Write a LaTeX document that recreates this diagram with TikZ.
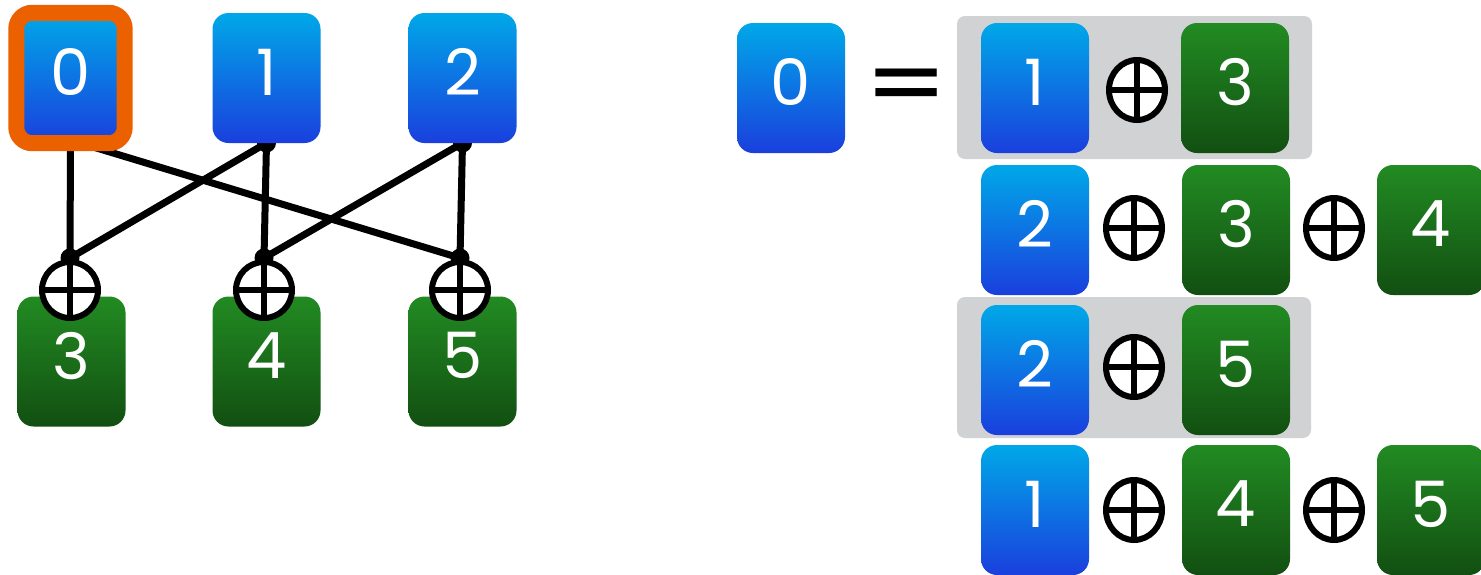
\documentclass[tikz,border=0pt]{standalone}
\usepackage{fontspec}
\newfontfamily\numfont{Poppins}
\newfontfamily\symfont{DejaVu Sans}
\usetikzlibrary{shapes.geometric}
\definecolor{bluetop}{HTML}{00A8E8}
\definecolor{bluebot}{HTML}{1A3FDD}
\definecolor{greentop}{HTML}{228B22}
\definecolor{greenbot}{HTML}{124F12}
\definecolor{panelgrey}{HTML}{D1D2D4}
\definecolor{frameorange}{HTML}{EB6100}
\tikzset{
  cell/.style={minimum width=108pt, minimum height=130pt, rounded corners=16pt, inner sep=0pt,
    text=white, text depth=12pt, font=\numfont\fontsize{64}{70}\selectfont},
  bluecell/.style={cell, top color=bluetop, bottom color=bluebot},
  greencell/.style={cell, top color=greentop, bottom color=greenbot},
  xorcirc/.style={circle, draw=black, fill=white, line width=6pt, minimum size=56pt, inner sep=0pt,
    path picture={\draw[line width=6pt] (path picture bounding box.north) -- (path picture bounding box.south)
      (path picture bounding box.west) -- (path picture bounding box.east);}},
  xoroval/.style={ellipse, draw=black, fill=white, line width=6pt, minimum width=56pt, minimum height=60pt, inner sep=0pt,
    path picture={\draw[line width=6pt] (path picture bounding box.north) -- (path picture bounding box.south)
      (path picture bounding box.west) -- (path picture bounding box.east);}},
  wire/.style={line width=7pt, black},
  joint/.style={circle, fill=black, minimum size=19pt, inner sep=0pt},
  panel/.style={fill=panelgrey, rounded corners=8pt, draw=none},
  frame/.style={draw=frameorange, line width=16pt, rounded corners=16pt}
}
\begin{document}
\begin{tikzpicture}[x=1pt, y=-1pt]
\useasboundingbox (0,0) rectangle (1481,574);
\clip (0,0) rectangle (1481,574);
\fill[white] (0,0) rectangle (1481,574);

% ---------- left panel ----------
\coordinate (t1s) at (266.5,143);
\coordinate (t2s) at (462.5,143);
\coordinate (t0a) at (70.5,143);
\coordinate (t0b) at (80,143);
\coordinate (x3top) at (70,258);
\coordinate (x4top) at (264,258);
\coordinate (x5top) at (460,258);

\draw[wire] (t0a) -- (x3top);
\draw[wire] (t0b) -- (x5top);
\draw[wire] (t1s) -- (x3top);
\draw[wire] (t1s) -- (x4top);
\draw[wire] (t2s) -- (x4top);
\draw[wire] (t2s) -- (x5top);
\node[joint] (j1) at (t1s) {};
\node[joint] (j2) at (t2s) {};
\node[joint] (j3) at (x3top) {};
\node[joint] (j4) at (x4top) {};
\node[joint] (j5) at (x5top) {};

\node[bluecell] (t0) at (70.5,78) {0};
\node[bluecell] (t1) at (266.5,78) {1};
\node[bluecell] (t2) at (462.5,78) {2};
\node[greencell] (b3) at (71.5,361.5) {3};
\node[greencell] (b4) at (266.5,361.5) {4};
\node[greencell] (b5) at (462.5,361.5) {5};

\draw[frame] (t0.south west) rectangle (t0.north east);

\node[xorcirc] (x3) at (70,290) {};
\node[xorcirc] (x4) at (264,290) {};
\node[xorcirc] (x5) at (460,290) {};

% ---------- right panel ----------
\fill[panel] (957,16) rectangle (1312,159);
\fill[panel] (957,297) rectangle (1311,438);

\node[bluecell] (r0) at (791,88) {0};
\node[font=\symfont\fontsize{98}{98}\selectfont, inner sep=0pt] (eq) at (907,91) {=};

% row 1
\node[bluecell] (a1) at (1035,88) {1};
\node[xoroval] (o11) at (1137,90) {};
\node[greencell] (b1) at (1235,88) {3};
% row 2
\node[bluecell] (a2) at (1035,230) {2};
\node[xoroval] (o21) at (1134,228) {};
\node[greencell] (b2) at (1236,230) {3};
\node[xoroval] (o22) at (1334,228) {};
\node[greencell] (c2) at (1431,230) {4};
% row 3
\node[bluecell] (a3) at (1035,370) {2};
\node[xoroval] (o31) at (1134,367) {};
\node[greencell] (b3r) at (1236,370) {5};
% row 4
\node[bluecell] (a4) at (1035,510) {1};
\node[xoroval] (o41) at (1134,510) {};
\node[greencell] (b4r) at (1236,510) {4};
\node[xoroval] (o42) at (1334,510) {};
\node[greencell] (c4) at (1431,510) {5};
\end{tikzpicture}
\end{document}
